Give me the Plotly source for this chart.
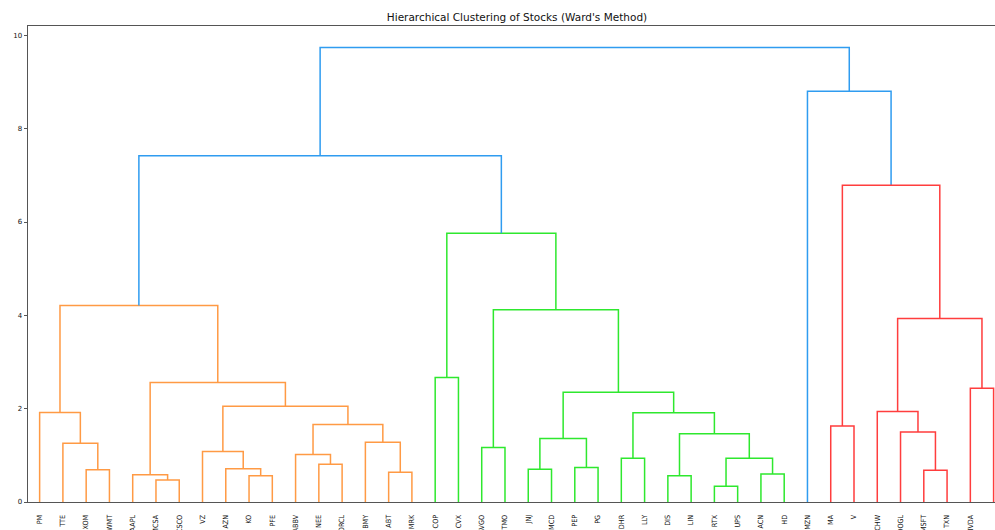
import plotly.graph_objects as go

# Leaf labels in dendrogram order
leaves = ["PM", "TTE", "XOM", "WMT", "AAPL", "CMCSA", "CSCO", "VZ", "AZN", "KO",
          "PFE", "ABBV", "NEE", "ORCL", "BMY", "ABT", "MRK", "COP", "CVX", "AVGO",
          "TMO", "JNJ", "MCD", "PEP", "PG", "DHR", "LLY", "DIS", "LIN", "RTX",
          "UPS", "ACN", "HD", "AMZN", "MA", "V", "SCHW", "GOOGL", "MSFT", "TXN",
          "NVDA", "TMUS"]

# Merges in order: children are leaf names or indices of earlier merges
structure = [
    ("XOM", "WMT"), ("TTE", 0), ("PM", 1),
    ("CMCSA", "CSCO"), ("AAPL", 3),
    ("KO", "PFE"), ("AZN", 5), ("VZ", 6),
    ("NEE", "ORCL"), ("ABBV", 8),
    ("ABT", "MRK"), ("BMY", 10),
    (9, 11), (7, 12), (4, 13), (2, 14),
    ("COP", "CVX"), ("AVGO", "TMO"),
    ("JNJ", "MCD"), ("PEP", "PG"), (18, 19),
    ("DHR", "LLY"), ("DIS", "LIN"), ("RTX", "UPS"), ("ACN", "HD"),
    (23, 24), (22, 25), (21, 26), (20, 27), (17, 28), (16, 29),
    (15, 30),
    ("MA", "V"), ("MSFT", "TXN"), ("GOOGL", 33), ("SCHW", 34),
    ("NVDA", "TMUS"), (35, 36), (32, 37), ("AMZN", 38), (31, 39),
]
# Merge distances (same order as structure)
merge_height = [0.69, 1.26, 1.92, 0.47, 0.585, 0.56, 0.71, 1.08, 0.81, 1.02, 0.64, 1.28,
                1.66, 2.05, 2.56, 4.21,
                2.67, 1.17, 0.70, 0.74, 1.36, 0.94, 0.56, 0.34, 0.60, 0.94, 1.46,
                1.91, 2.35, 4.12, 5.76,
                7.42, 1.63, 0.68, 1.50, 1.94, 2.44, 3.93, 6.79, 8.80, 9.74]

palette = ["#ff9a44", "#2ee82e", "#ff3d3d"]
above_color = "#2f9cf0"

n = len(leaves)
L = {name: i for i, name in enumerate(leaves)}


def node_id(ref):
    return L[ref] if isinstance(ref, str) else n + ref


pairs = [(node_id(a), node_id(b)) for a, b in structure]
threshold = 0.7 * max(merge_height)

# positions (scipy dendrogram convention: leaves at 5, 15, 25, ...)
pos = {i: (10 * i + 5, 0.0) for i in range(n)}
for k, (a, b) in enumerate(pairs):
    pos[n + k] = ((pos[a][0] + pos[b][0]) / 2, merge_height[k])


def leaves_of(node):
    if node < n:
        return [node]
    a, b = pairs[node - n]
    return leaves_of(a) + leaves_of(b)


cluster_roots = []
for k, (a, b) in enumerate(pairs):
    if merge_height[k] >= threshold:
        for c in (a, b):
            if c >= n and merge_height[c - n] < threshold:
                cluster_roots.append(c)
cluster_roots.sort(key=lambda c: min(leaves_of(c)))
color_of_merge = {}


def paint(node, col):
    if node < n:
        return
    color_of_merge[node - n] = col
    a, b = pairs[node - n]
    paint(a, col)
    paint(b, col)


for i, root in enumerate(cluster_roots):
    paint(root, palette[i % len(palette)])

segs = {}
for k, (a, b) in enumerate(pairs):
    col = color_of_merge.get(k, above_color)
    xa, ha = pos[a]
    xb, hb = pos[b]
    h = merge_height[k]
    xs, ys = segs.setdefault(col, ([], []))
    xs += [xa, xa, xb, xb, None]
    ys += [ha, h, h, hb, None]

fig = go.Figure()
for col, (xs, ys) in segs.items():
    fig.add_trace(go.Scatter(x=xs, y=ys, mode="lines",
                             line=dict(color=col, width=1.5),
                             hoverinfo="skip", showlegend=False))

fig.update_layout(
    template="none",
    width=995, height=530,
    margin=dict(l=28, r=0, t=26, b=28, pad=0),
    paper_bgcolor="white", plot_bgcolor="white",
    font=dict(family="DejaVu Sans", color="#222", size=10),
    title=dict(text="Hierarchical Clustering of Stocks (Ward's Method)",
               x=517 / 995, xref="container", xanchor="center",
               y=1 - 17 / 530, yref="container", yanchor="middle",
               font=dict(size=10.5, color="#111", family="DejaVu Sans")),
    showlegend=False,
)
fig.update_xaxes(
    range=[0, 415.6], tickmode="array",
    tickvals=[10 * i + 5 for i in range(n)], ticktext=leaves,
    tickangle=-90, ticks="", ticklabelstandoff=9,
    showgrid=False, zeroline=False,
    showline=True, linecolor="#555", linewidth=1, mirror=True,
    automargin=False,
    tickfont=dict(size=7.2, color="#111",
                  family="Liberation Sans Narrow, DejaVu Sans Condensed, sans-serif"),
)
fig.update_yaxes(
    range=[0, 10.2], tickmode="array", tickvals=[0, 2, 4, 6, 8, 10],
    ticks="outside", ticklen=3.5, tickcolor="#555", tickwidth=1,
    showgrid=False, zeroline=False,
    showline=True, linecolor="#555", linewidth=1, mirror=False,
    automargin=False, tickfont=dict(size=7, color="#111"),
)

fig.write_html("out.html", config={"displayModeBar": False},
               post_script="document.body.style.margin='0';")
